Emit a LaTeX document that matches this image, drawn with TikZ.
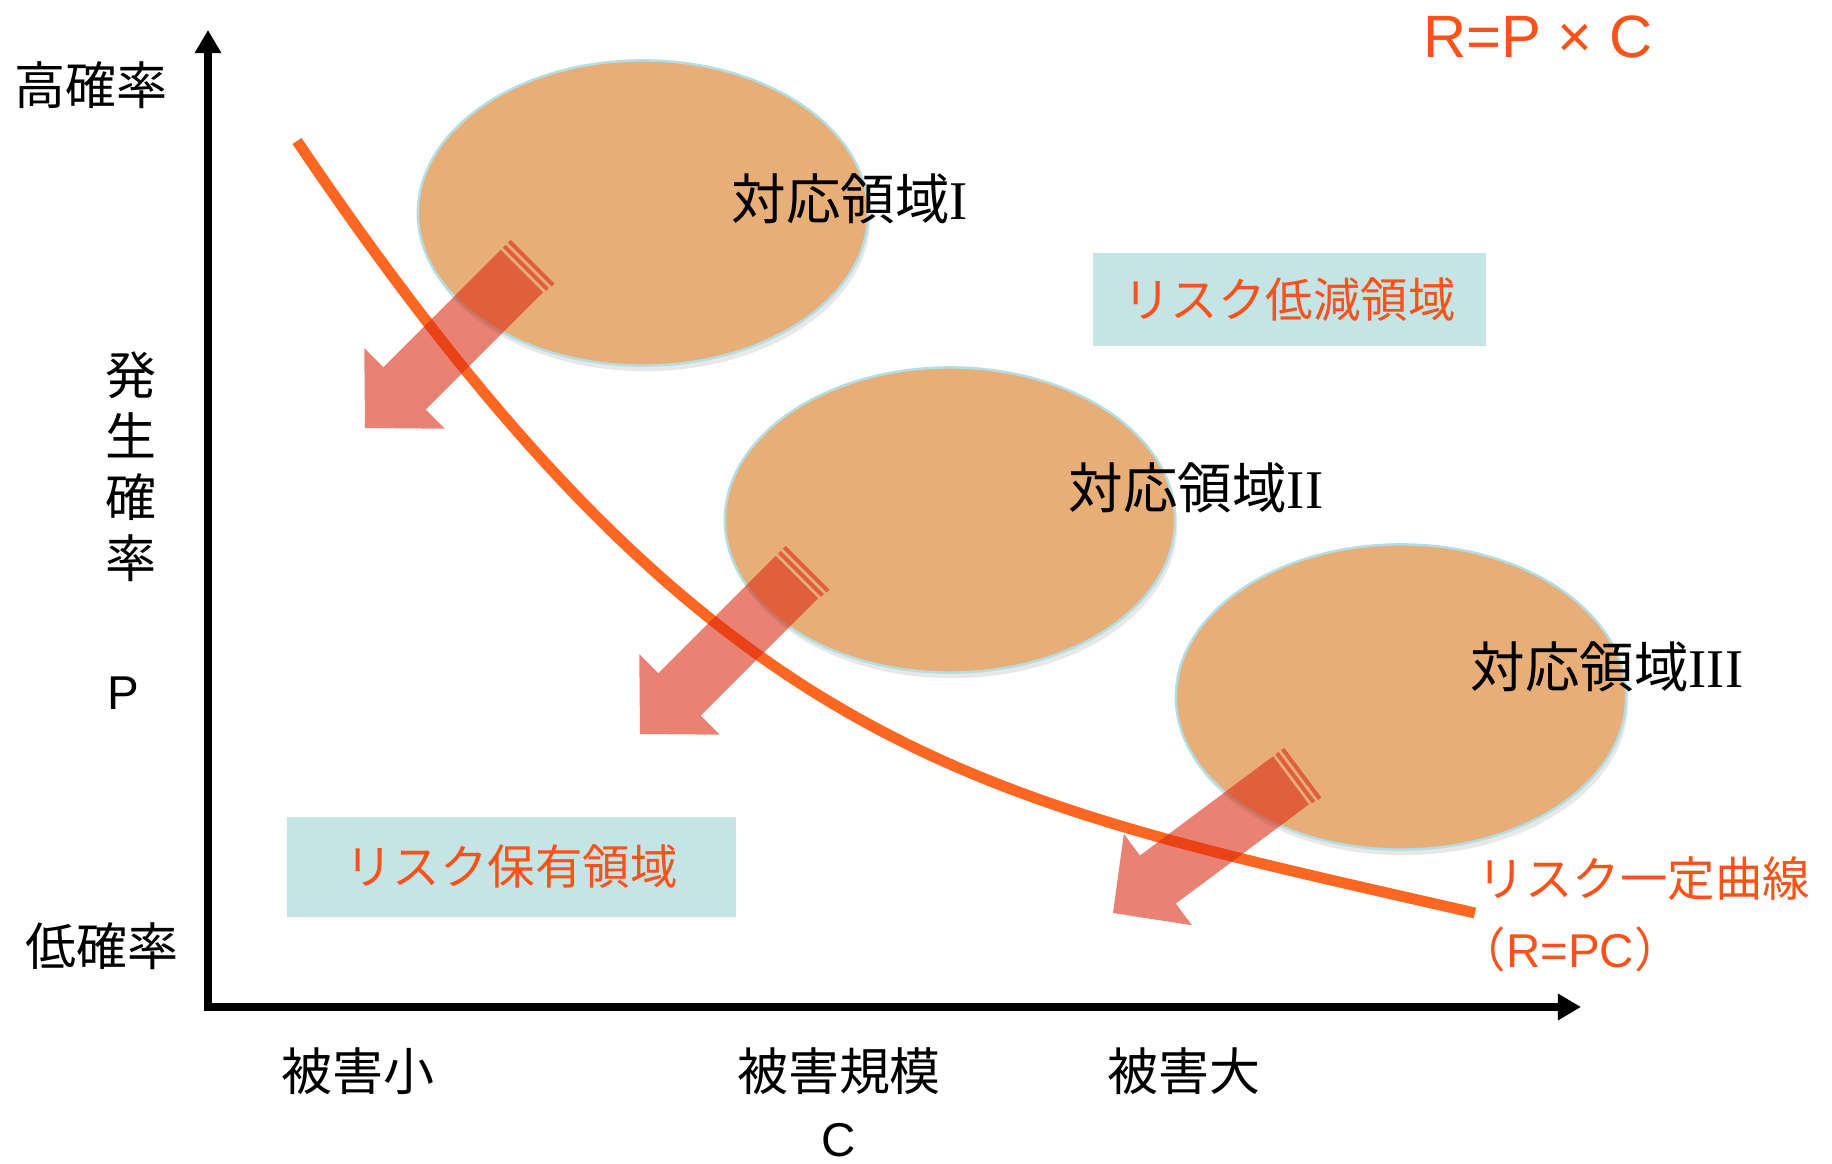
\documentclass[tikz,border=0pt]{standalone}
\usepackage{fontspec}
\setmainfont{Liberation Sans}
\newfontfamily\jpfont{Noto Sans CJK JP}
\newfontfamily\romfont{Liberation Serif}
\usetikzlibrary{arrows.meta,shapes.geometric,shadows}
\definecolor{ellfill}{RGB}{232,174,120}
\definecolor{ellline}{RGB}{178,222,228}
\definecolor{curvecol}{RGB}{253,103,33}
\definecolor{arrowcol}{RGB}{219,40,16}
\definecolor{redtext}{RGB}{252,82,26}
\definecolor{boxfill}{RGB}{196,228,230}
\tikzset{
  regionell/.style={ellipse, fill=ellfill, draw=ellline, line width=0.7pt,
    minimum width=4.5cm, minimum height=3.05cm, inner sep=0pt,
    drop shadow={opacity=0.18, shadow xshift=0.6pt, shadow yshift=-1.6pt}},
  arrowbody/.style={fill=arrowcol, fill opacity=0.58},
  riskcurve/.style={draw=curvecol, line width=3.1pt, line cap=butt},
  axisline/.style={line width=2pt, line join=miter},
  riskbox/.style={fill=boxfill, inner sep=0pt, text=redtext,
    font=\jpfont\fontsize{13.5}{16}\selectfont},
  ellbl/.style={inner sep=0pt, font=\jpfont\fontsize{15.5}{18}\selectfont},
  axislbl/.style={inner sep=0pt, font=\jpfont\fontsize{14.5}{17.3}\selectfont},
  latinlbl/.style={inner sep=0pt, font=\fontsize{13.5}{16}\selectfont},
  redlbl/.style={inner sep=0pt, text=redtext, font=\jpfont\fontsize{13.5}{16}\selectfont}
}
\newcommand\riskarrow[3]{%
  \begin{scope}[shift={(#1,#2)},rotate=#3]
    \fill[arrowbody] (0,0) -- (56,57) -- (56,30) -- (222,30) -- (222,-30)
      -- (56,-30) -- (56,-57) -- cycle;
    \fill[arrowbody] (225,-30) rectangle (229,31);
    \fill[arrowbody] (232,-30) rectangle (236,32);
  \end{scope}}
\begin{document}
\begin{tikzpicture}[x=0.01cm,y=-0.01cm]
\useasboundingbox (0,0) rectangle (1832,1164);
\fill[white] (0,0) rectangle (1832,1164);

% regions
\node[regionell] (e1) at (643,213) {};
\node[regionell] (e2) at (950,520) {};
\node[regionell] (e3) at (1401,697) {};

% boxes
\node[riskbox, minimum width=3.93cm, minimum height=0.93cm] (b1) at (1289.5,299.5) {リスク低減領域};
\node[riskbox, minimum width=4.49cm, minimum height=1.0cm] (b2) at (511.5,867) {\raisebox{0.8pt}{リスク保有領域}};

% axes
\coordinate (ytop) at (208,30);
\coordinate (orig) at (208,1007);
\coordinate (xend) at (1581,1007);
\draw[axisline, {Triangle[length=6.6pt,width=7.2pt]}-{Triangle[length=6.6pt,width=7.2pt]}] (ytop) -- (orig) -- (xend);

% risk curve
\coordinate (cstart) at (297,141);
\coordinate (cend) at (1475,913);
\draw[riskcurve] (cstart) .. controls (717,763) and (975,798) .. (cend);

% arrows
\riskarrow{365}{428}{45}
\riskarrow{640}{734}{45}
\riskarrow{1113}{913}{36.7}

% region labels
\node[ellbl] (l1) at (850,199) {対応領域{\romfont I}};
\node[ellbl] (l2) at (1196,488) {対応領域{\romfont II}};
\node[ellbl] (l3) at (1607,667) {対応領域{\romfont III}};

% axis labels
\node[axislbl] (hi) at (91,85) {高確率};
\node[axislbl, align=center] (pname) at (131,467) {発\\生\\確\\率};
\node[latinlbl] (pl) at (123,693) {P};
\node[axislbl] (lo) at (102,946) {低確率};
\node[axislbl] (cs) at (358,1071) {被害小};
\node[axislbl] (cn) at (839,1071) {被害規模};
\node[axislbl] (cl) at (1184,1071) {被害大};
\node[latinlbl] (cc) at (839,1140) {C};

% formulas
\node[inner sep=0pt, text=redtext, font=\fontsize{17}{20}\selectfont] (formula) at (1538,37) {R=P × C};
\node[redlbl, anchor=west] (cv) at (1477,879) {リスク一定曲線};
\node[redlbl, anchor=west] (cveq) at (1458,949) {（{\fontspec{Liberation Sans}R=PC}）};
\end{tikzpicture}
\end{document}
